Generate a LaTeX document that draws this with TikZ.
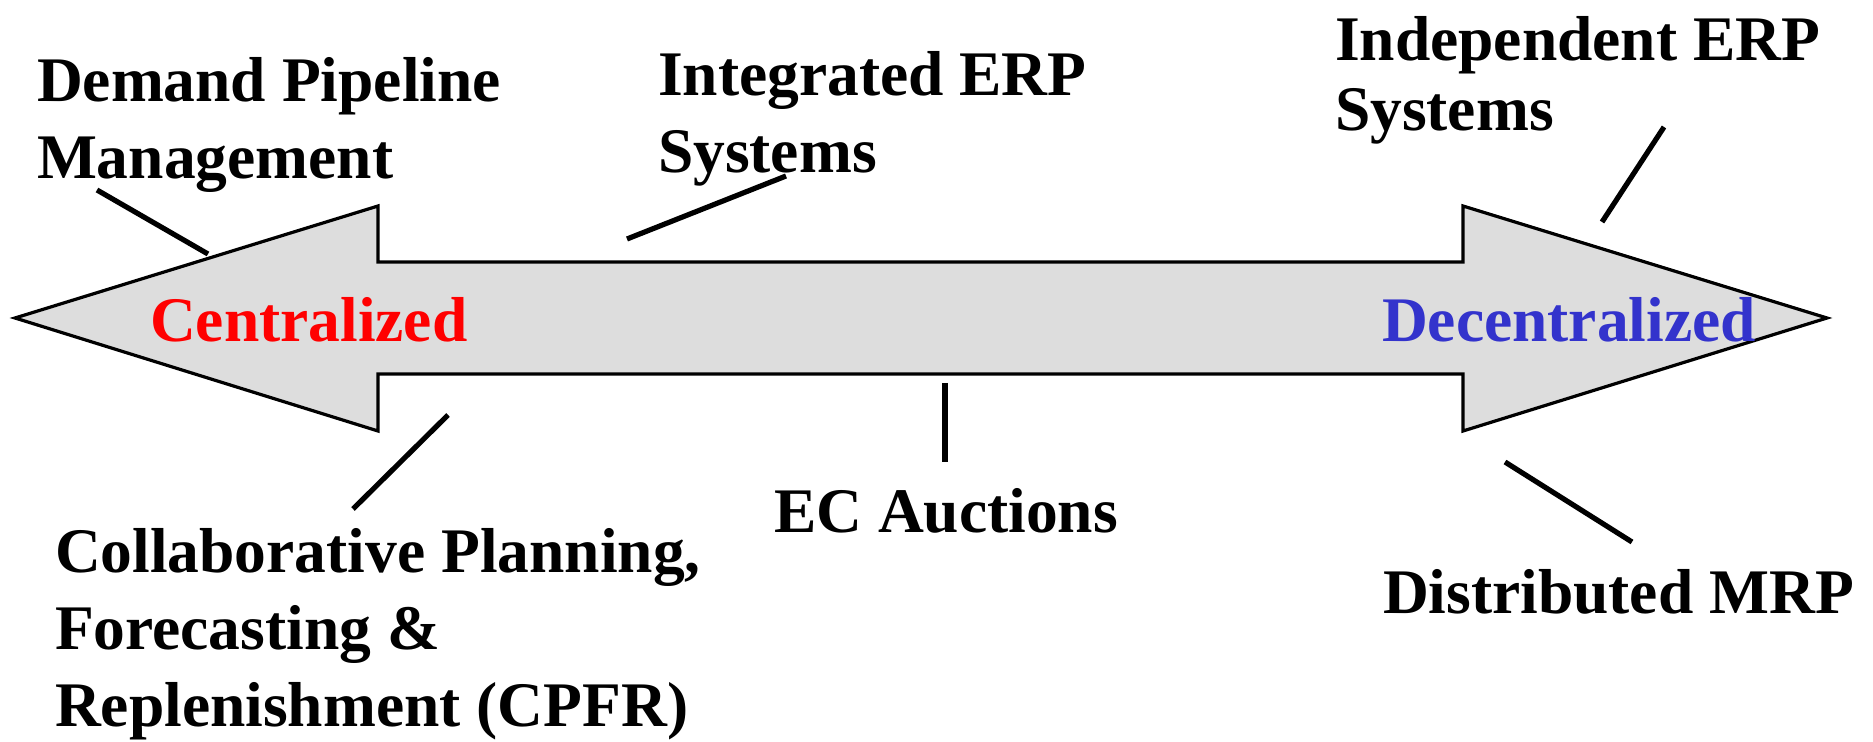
\documentclass[tikz,border=0pt]{standalone}
\usepackage{fontspec}
\setmainfont{Liberation Serif}
\definecolor{arrowgray}{HTML}{DDDDDD}
\definecolor{cred}{HTML}{FF0000}
\definecolor{dblue}{HTML}{3333CC}
\tikzset{
  lbl/.style={anchor=base west, inner sep=0pt, outer sep=0pt,
    font=\bfseries\fontsize{31.75}{38.5}\selectfont},
  bigarrow/.style={draw=black, line width=1.6pt, fill=arrowgray, line join=miter},
  leader/.style={draw=black, line width=2.6pt},
}
\begin{document}
\begin{tikzpicture}[x=0.5pt, y=-0.5pt]
\useasboundingbox (0,0) rectangle (1873,742);
% double-headed arrow
\draw[bigarrow] (15,318) -- (378,206) -- (378,262) -- (1463,262) -- (1463,206)
  -- (1827,318) -- (1463,431) -- (1463,374) -- (378,374) -- (378,431) -- cycle;
% labels inside arrow
\node[lbl, text=cred] (cen) at (150,342) {Centralized};
\node[lbl, text=dblue] (dec) at (1382,342) {Decentralized};
% outside labels
\node[lbl] (dpm) at (37,102) {\vtop{\hbox{Demand Pipeline}\hbox{Management}}};
\node[lbl] (ierp) at (658,96) {\vtop{\hbox{Integrated ERP}\hbox{Systems}}};
\node[lbl] (inerp) at (1335,61) {\vtop{\baselineskip=35pt\hbox{Independent ERP}\hbox{Systems}}};
\node[lbl] (cpfr) at (55,573) {\vtop{\hbox{Collaborative Planning,}\hbox{Forecasting \&}\hbox{Replenishment (CPFR)}}};
\node[lbl] (eca) at (774,533) {EC Auctions};
\node[lbl] (dmrp) at (1383,613) {Distributed MRP};
% leader line end points
\coordinate (dpmA) at (97,190);   \coordinate (dpmB) at (208,254);
\coordinate (ierpA) at (786,176); \coordinate (ierpB) at (627,239);
\coordinate (inA) at (1664,127);  \coordinate (inB) at (1602,222);
\coordinate (cpA) at (448,415);   \coordinate (cpB) at (353,509);
\coordinate (ecA) at (945,383);   \coordinate (ecB) at (945,462);
\coordinate (dmA) at (1505,462);  \coordinate (dmB) at (1632,542);
\draw[leader] (dpmA) -- (dpmB);
\draw[leader] (ierpA) -- (ierpB);
\draw[leader] (inA) -- (inB);
\draw[leader] (cpA) -- (cpB);
\draw[leader] (ecA) -- (ecB);
\draw[leader] (dmA) -- (dmB);
\end{tikzpicture}
\end{document}
